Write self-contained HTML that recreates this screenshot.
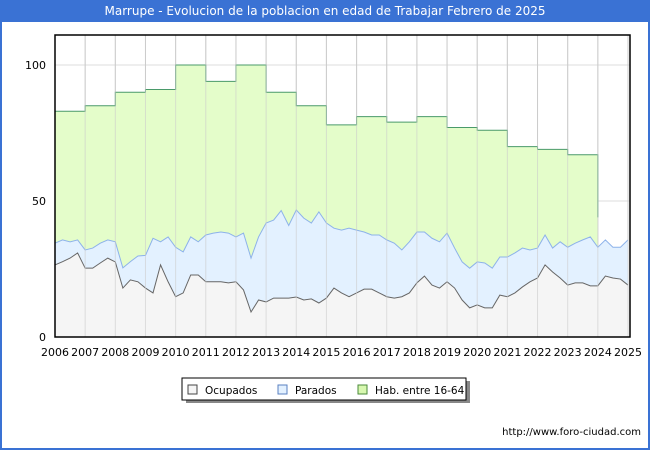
<!DOCTYPE html>
<html><head><meta charset="utf-8"><style>
body{margin:0;width:650px;height:450px;background:#fff;font-family:"DejaVu Sans","Liberation Sans",sans-serif;overflow:hidden}
#border{position:absolute;left:0;top:0;width:646px;height:446px;border:2px solid #3a72d4}
#title{position:absolute;left:0;top:0;width:650px;height:22px;background:#3a72d4;color:#fff;font-size:12px;line-height:22px;text-align:center}
#url{position:absolute;right:9px;top:427px;font-size:10px;color:#000}
</style></head><body>
<div id="border"></div>
<div id="title">Marrupe - Evolucion de la poblacion en edad de Trabajar Febrero de 2025</div>
<svg id="chart" width="650" height="450" style="position:absolute;left:0;top:0"></svg>
<div id="url">http://www.foro-ciudad.com</div>
<script>
const years=[2006,2007,2008,2009,2010,2011,2012,2013,2014,2015,2016,2017,2018,2019,2020,2021,2022,2023,2024,2025];
const yTicks=[0,50,100];
const habValues=[83,85,90,91,100,94,100,90,85,78,81,79,81,77,76,70,69,67];
const habEndValue=44;
const paradosTotal=[34.5,35.7,35,35.7, 32,32.7,34.5,35.7, 35,25.4,27.7,29.8, 30,36.3,35,36.8, 33,31.3,36.8,35, 37.5,38.2,38.6,38.2, 36.8,38.2,29,36.8, 41.9,43,46.5,41, 46.7,43.7,41.9,46, 41.9,40,39.3,40, 39.3,38.6,37.5,37.5, 35.7,34.5,32,35, 38.6,38.6,36.3,35, 38.2,32.7,27.6,25.3, 27.6,27.2,25.3,29.4, 29.4,30.9,32.7,32, 32.7,37.5,32.7,35, 33,34.5,35.7,36.8, 33,35.7,33,33, 35.7];
const ocupados=[26.5,27.7,29,30.9, 25.3,25.3,27.2,29, 27.6,18,21,20.3, 18,16.2,26.5,20.3, 14.8,16.2,22.8,22.8, 20.3,20.3,20.3,19.9, 20.3,17.3,9.2,13.6, 12.9,14.3,14.3,14.3, 14.7,13.6,14,12.5, 14.3,18,16.2,14.8, 16.2,17.6,17.6,16.2, 14.8,14.3,14.8,16.2, 19.9,22.4,19.1,18, 20.3,18,13.6,10.7, 11.8,10.7,10.7,15.4, 14.8,16.2,18.4,20.3, 21.7,26.5,23.9,21.7, 19.1,19.9,19.9,18.8, 18.8,22.4,21.7,21.3, 19.1];
const legendLabels=["Ocupados","Parados","Hab. entre 16-64"];

const L=55,R=628,T=35,B=337;
const xs=t=>L+(t-2006)*(R-L)/19;
const ys=v=>B-v*2.72;
const svg=document.getElementById('chart');
const NS='http://www.w3.org/2000/svg';
function mk(tag,attrs){const e=document.createElementNS(NS,tag);for(const k in attrs)e.setAttribute(k,attrs[k]);svg.appendChild(e);return e;}

yTicks.forEach(v=>{const g=mk('line',{x1:L,x2:630,y1:ys(v),y2:ys(v),stroke:'#ddd'});


const t=mk('text',{x:46,y:ys(v)+4,'text-anchor':'end','font-size':11,fill:'#000'});t.textContent=v;

});
years.forEach(y=>{const g=mk('line',{x1:xs(y),x2:xs(y),y1:T,y2:B,stroke:'#ccc'});


const t=mk('text',{x:xs(y),y:356,'text-anchor':'middle','font-size':11,fill:'#000'});t.textContent=y;

});

let hp=[];habValues.forEach((v,i)=>{hp.push([xs(2006+i),ys(v)],[xs(2007+i),ys(v)]);});
hp.push([xs(2024),ys(habEndValue)]);
const habD='M'+hp.map(p=>p.join(',')).join(' L');
const ha=mk('path',{d:habD+` L${xs(2024)},${B} L${xs(2006)},${B} Z`,fill:'#e4fdca',stroke:'none'});


const hl=mk('path',{d:habD,fill:'none',stroke:'#4a9a6a','stroke-width':1});



function series(arr,fill,stroke,name){
 const pts=arr.map((v,i)=>[xs(2006+i*0.25),ys(v)]);
 const d='M'+pts.map(p=>p.join(',')).join(' L');
 const a=mk('path',{d:d+` L${pts[pts.length-1][0]},${B} L${pts[0][0]},${B} Z`,fill:fill,stroke:'none'});
 
 
 const l=mk('path',{d:d,fill:'none',stroke:stroke,'stroke-width':1});
 
 
}
series(paradosTotal,'#e3f1ff','#8db2ea','parados');
series(ocupados,'#f5f5f5','#666','ocupados');
years.forEach(y=>{const g=mk('line',{x1:xs(y),x2:xs(y),y1:T,y2:B,stroke:'#ccc','stroke-opacity':0.6});

});
const ax=mk('rect',{x:L,y:T,width:630-L,height:B-T,fill:'none',stroke:'#000','stroke-width':1.5});



const lb=mk('rect',{x:186,y:381,width:284,height:22,fill:'#888'});


const lg=mk('rect',{x:182,y:378,width:284,height:22,fill:'#fff',stroke:'#000'});


const cols=[['#f5f5f5','#444'],['#e3f1ff','#5a80c0'],['#d8f8b0','#4a8a3a']];
const lx=[188,278,358];
legendLabels.forEach((t,i)=>{
 const r=mk('rect',{x:lx[i],y:385,width:9,height:9,fill:cols[i][0],stroke:cols[i][1]});
 
 
 const tx=mk('text',{x:lx[i]+17,y:394,'font-size':10.5,fill:'#000'});tx.textContent=t;
 
 
});
</script>
</body></html>
